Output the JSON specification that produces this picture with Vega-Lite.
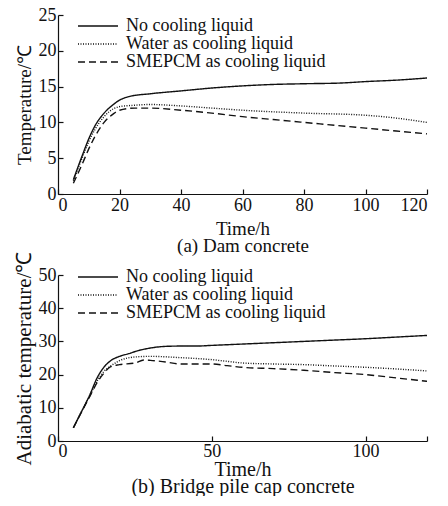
{
  "$schema": "https://vega.github.io/schema/vega-lite/v6.json",
  "autosize": {"type": "pad"},
  "padding": {"left": 12, "top": 6, "right": 0, "bottom": 0},
  "background": "white",
  "config": {
    "font": "Liberation Serif",
    "view": {"stroke": null},
    "axis": {
      "domainColor": "#111", "tickColor": "#111", "grid": false,
      "labelFont": "Liberation Serif", "titleFont": "Liberation Serif",
      "labelFontSize": 18, "titleFontSize": 19, "labelColor": "#111", "titleColor": "#111",
      "titleFontWeight": "normal", "tickSize": -5, "labelPadding": 7, "domainWidth": 1.2, "tickWidth": 1.2
    },
    "legend": {
      "labelFont": "Liberation Serif", "labelFontSize": 18, "labelColor": "#111", "labelLimit": 400
    }
  },
  "datasets": {
    "dam": [
      {"t": 5, "v": 2.0, "s": "No cooling liquid"},
      {"t": 8, "v": 5.5, "s": "No cooling liquid"},
      {"t": 10, "v": 7.7, "s": "No cooling liquid"},
      {"t": 12, "v": 9.5, "s": "No cooling liquid"},
      {"t": 15, "v": 11.3, "s": "No cooling liquid"},
      {"t": 18, "v": 12.5, "s": "No cooling liquid"},
      {"t": 20, "v": 13.1, "s": "No cooling liquid"},
      {"t": 23, "v": 13.6, "s": "No cooling liquid"},
      {"t": 30, "v": 14.0, "s": "No cooling liquid"},
      {"t": 40, "v": 14.4, "s": "No cooling liquid"},
      {"t": 50, "v": 14.8, "s": "No cooling liquid"},
      {"t": 60, "v": 15.1, "s": "No cooling liquid"},
      {"t": 70, "v": 15.3, "s": "No cooling liquid"},
      {"t": 80, "v": 15.4, "s": "No cooling liquid"},
      {"t": 92, "v": 15.5, "s": "No cooling liquid"},
      {"t": 100, "v": 15.7, "s": "No cooling liquid"},
      {"t": 110, "v": 15.9, "s": "No cooling liquid"},
      {"t": 120, "v": 16.2, "s": "No cooling liquid"},
      {"t": 5, "v": 1.8, "s": "Water as cooling liquid"},
      {"t": 8, "v": 5.2, "s": "Water as cooling liquid"},
      {"t": 10, "v": 7.3, "s": "Water as cooling liquid"},
      {"t": 12, "v": 9.0, "s": "Water as cooling liquid"},
      {"t": 15, "v": 10.8, "s": "Water as cooling liquid"},
      {"t": 18, "v": 11.9, "s": "Water as cooling liquid"},
      {"t": 20, "v": 12.2, "s": "Water as cooling liquid"},
      {"t": 25, "v": 12.4, "s": "Water as cooling liquid"},
      {"t": 30, "v": 12.5, "s": "Water as cooling liquid"},
      {"t": 40, "v": 12.3, "s": "Water as cooling liquid"},
      {"t": 50, "v": 12.0, "s": "Water as cooling liquid"},
      {"t": 60, "v": 11.7, "s": "Water as cooling liquid"},
      {"t": 80, "v": 11.3, "s": "Water as cooling liquid"},
      {"t": 100, "v": 11.0, "s": "Water as cooling liquid"},
      {"t": 110, "v": 10.6, "s": "Water as cooling liquid"},
      {"t": 120, "v": 10.0, "s": "Water as cooling liquid"},
      {"t": 5, "v": 1.5, "s": "SMEPCM as cooling liquid"},
      {"t": 8, "v": 4.3, "s": "SMEPCM as cooling liquid"},
      {"t": 10, "v": 6.3, "s": "SMEPCM as cooling liquid"},
      {"t": 12, "v": 8.0, "s": "SMEPCM as cooling liquid"},
      {"t": 15, "v": 10.0, "s": "SMEPCM as cooling liquid"},
      {"t": 18, "v": 11.2, "s": "SMEPCM as cooling liquid"},
      {"t": 20, "v": 11.7, "s": "SMEPCM as cooling liquid"},
      {"t": 25, "v": 12.0, "s": "SMEPCM as cooling liquid"},
      {"t": 30, "v": 12.0, "s": "SMEPCM as cooling liquid"},
      {"t": 40, "v": 11.7, "s": "SMEPCM as cooling liquid"},
      {"t": 50, "v": 11.3, "s": "SMEPCM as cooling liquid"},
      {"t": 60, "v": 10.8, "s": "SMEPCM as cooling liquid"},
      {"t": 70, "v": 10.4, "s": "SMEPCM as cooling liquid"},
      {"t": 80, "v": 10.0, "s": "SMEPCM as cooling liquid"},
      {"t": 90, "v": 9.6, "s": "SMEPCM as cooling liquid"},
      {"t": 100, "v": 9.2, "s": "SMEPCM as cooling liquid"},
      {"t": 110, "v": 8.8, "s": "SMEPCM as cooling liquid"},
      {"t": 120, "v": 8.4, "s": "SMEPCM as cooling liquid"}
    ],
    "pile": [
      {"t": 5, "v": 4.0, "s": "No cooling liquid"},
      {"t": 8, "v": 9.5, "s": "No cooling liquid"},
      {"t": 10, "v": 13.2, "s": "No cooling liquid"},
      {"t": 13, "v": 19.5, "s": "No cooling liquid"},
      {"t": 15, "v": 22.3, "s": "No cooling liquid"},
      {"t": 17, "v": 24.1, "s": "No cooling liquid"},
      {"t": 20, "v": 25.5, "s": "No cooling liquid"},
      {"t": 23, "v": 26.3, "s": "No cooling liquid"},
      {"t": 26, "v": 27.2, "s": "No cooling liquid"},
      {"t": 30, "v": 28.0, "s": "No cooling liquid"},
      {"t": 35, "v": 28.5, "s": "No cooling liquid"},
      {"t": 40, "v": 28.6, "s": "No cooling liquid"},
      {"t": 45, "v": 28.6, "s": "No cooling liquid"},
      {"t": 50, "v": 28.8, "s": "No cooling liquid"},
      {"t": 60, "v": 29.2, "s": "No cooling liquid"},
      {"t": 70, "v": 29.6, "s": "No cooling liquid"},
      {"t": 80, "v": 30.0, "s": "No cooling liquid"},
      {"t": 90, "v": 30.4, "s": "No cooling liquid"},
      {"t": 100, "v": 30.8, "s": "No cooling liquid"},
      {"t": 110, "v": 31.3, "s": "No cooling liquid"},
      {"t": 120, "v": 31.8, "s": "No cooling liquid"},
      {"t": 5, "v": 4.0, "s": "Water as cooling liquid"},
      {"t": 8, "v": 9.5, "s": "Water as cooling liquid"},
      {"t": 10, "v": 13.0, "s": "Water as cooling liquid"},
      {"t": 13, "v": 18.5, "s": "Water as cooling liquid"},
      {"t": 15, "v": 21.0, "s": "Water as cooling liquid"},
      {"t": 17, "v": 22.5, "s": "Water as cooling liquid"},
      {"t": 20, "v": 24.2, "s": "Water as cooling liquid"},
      {"t": 25, "v": 25.3, "s": "Water as cooling liquid"},
      {"t": 30, "v": 25.5, "s": "Water as cooling liquid"},
      {"t": 40, "v": 25.1, "s": "Water as cooling liquid"},
      {"t": 50, "v": 24.5, "s": "Water as cooling liquid"},
      {"t": 55, "v": 24.0, "s": "Water as cooling liquid"},
      {"t": 60, "v": 23.5, "s": "Water as cooling liquid"},
      {"t": 70, "v": 23.2, "s": "Water as cooling liquid"},
      {"t": 80, "v": 23.0, "s": "Water as cooling liquid"},
      {"t": 90, "v": 22.6, "s": "Water as cooling liquid"},
      {"t": 100, "v": 22.2, "s": "Water as cooling liquid"},
      {"t": 110, "v": 21.7, "s": "Water as cooling liquid"},
      {"t": 120, "v": 21.1, "s": "Water as cooling liquid"},
      {"t": 5, "v": 4.0, "s": "SMEPCM as cooling liquid"},
      {"t": 8, "v": 9.3, "s": "SMEPCM as cooling liquid"},
      {"t": 10, "v": 12.8, "s": "SMEPCM as cooling liquid"},
      {"t": 13, "v": 18.0, "s": "SMEPCM as cooling liquid"},
      {"t": 15, "v": 20.5, "s": "SMEPCM as cooling liquid"},
      {"t": 17, "v": 22.3, "s": "SMEPCM as cooling liquid"},
      {"t": 20, "v": 23.0, "s": "SMEPCM as cooling liquid"},
      {"t": 25, "v": 23.5, "s": "SMEPCM as cooling liquid"},
      {"t": 28, "v": 24.4, "s": "SMEPCM as cooling liquid"},
      {"t": 30, "v": 24.3, "s": "SMEPCM as cooling liquid"},
      {"t": 35, "v": 23.8, "s": "SMEPCM as cooling liquid"},
      {"t": 40, "v": 23.2, "s": "SMEPCM as cooling liquid"},
      {"t": 50, "v": 23.2, "s": "SMEPCM as cooling liquid"},
      {"t": 55, "v": 22.7, "s": "SMEPCM as cooling liquid"},
      {"t": 60, "v": 22.2, "s": "SMEPCM as cooling liquid"},
      {"t": 70, "v": 21.8, "s": "SMEPCM as cooling liquid"},
      {"t": 80, "v": 21.3, "s": "SMEPCM as cooling liquid"},
      {"t": 90, "v": 20.6, "s": "SMEPCM as cooling liquid"},
      {"t": 100, "v": 20.0, "s": "SMEPCM as cooling liquid"},
      {"t": 110, "v": 19.0, "s": "SMEPCM as cooling liquid"},
      {"t": 120, "v": 18.0, "s": "SMEPCM as cooling liquid"}
    ]
  },
  "bounds": "flush",
  "spacing": 81,
  "resolve": {"scale": {"strokeDash": "independent", "x": "independent", "y": "independent"}, "legend": {"strokeDash": "independent"}},
  "vconcat": [
    {
      "width": 369,
      "height": 179,
      "data": {"name": "dam"},
      "mark": {"type": "line", "color": "#111", "strokeWidth": 1.4, "interpolate": "monotone"},
      "encoding": {
        "x": {"field": "t", "type": "quantitative", "scale": {"domain": [0, 120], "nice": false},
          "axis": {"values": [0, 20, 40, 60, 80, 100, 120], "title": ["Time/h", "(a) Dam concrete"], "titlePadding": 5, "titleLineHeight": 17}},
        "y": {"field": "v", "type": "quantitative", "scale": {"domain": [0, 25], "nice": false},
          "axis": {"values": [0, 5, 10, 15, 20, 25], "title": "Temperature/℃", "titlePadding": 4}},
        "strokeDash": {"field": "s", "type": "nominal",
          "scale": {"domain": ["No cooling liquid", "Water as cooling liquid", "SMEPCM as cooling liquid"], "range": [[1, 0], [1, 1.5], [7, 4]]},
          "legend": {"title": null, "orient": "none", "legendX": 31, "legendY": 2, "symbolType": "M-2.5,0L2.5,0", "symbolSize": 256, "symbolStrokeWidth": 1.4, "symbolStrokeColor": "#111", "padding": 0, "rowPadding": 0, "labelOffset": 19}}
      }
    },
    {
      "width": 369,
      "height": 166,
      "data": {"name": "pile"},
      "mark": {"type": "line", "color": "#111", "strokeWidth": 1.4, "interpolate": "monotone"},
      "encoding": {
        "x": {"field": "t", "type": "quantitative", "scale": {"domain": [0, 120], "nice": false},
          "axis": {"values": [0, 50, 100, 120], "labelExpr": "datum.value == 120 ? '' : datum.label", "title": ["Time/h", "(b) Bridge pile cap concrete"], "titleFontSize": 20, "titlePadding": -1, "titleLineHeight": 17, "labelPadding": 6}},
        "y": {"field": "v", "type": "quantitative", "scale": {"domain": [0, 50], "nice": false},
          "axis": {"values": [0, 10, 20, 30, 40, 50], "title": "Adiabatic temperature/℃", "titleFontSize": 21, "titlePadding": 4}},
        "strokeDash": {"field": "s", "type": "nominal",
          "scale": {"domain": ["No cooling liquid", "Water as cooling liquid", "SMEPCM as cooling liquid"], "range": [[1, 0], [1, 1.5], [7, 4]]},
          "legend": {"title": null, "orient": "none", "legendX": 31, "legendY": -7, "symbolType": "M-2.5,0L2.5,0", "symbolSize": 256, "symbolStrokeWidth": 1.4, "symbolStrokeColor": "#111", "padding": 0, "rowPadding": 0, "labelOffset": 19}}
      }
    }
  ]
}
